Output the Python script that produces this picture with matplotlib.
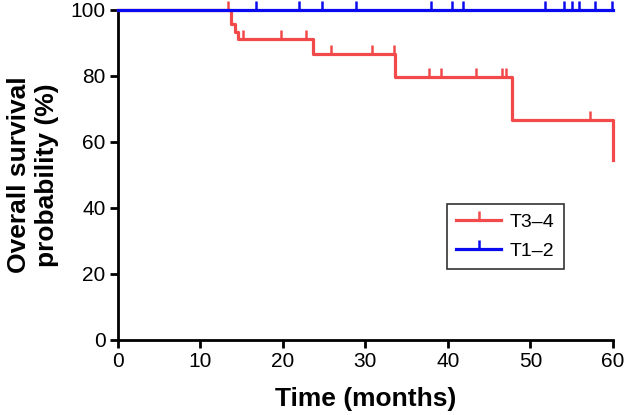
import numpy as np
import matplotlib
matplotlib.use("Agg")
import matplotlib.pyplot as plt
from matplotlib.lines import Line2D

plt.rcParams['font.family'] = ['Liberation Sans', 'DejaVu Sans']

# T3-4 group: event times (months) and survival (%) after each drop
t34_times = [0, 13.7, 14.2, 14.6, 23.7, 33.6, 47.8, 60.0]
t34_surv = [100, 95.6, 93.4, 91.2, 86.5, 79.8, 66.5, 54.5]
t34_censor = [13.3, 15.1, 19.8, 22.8, 25.8, 30.8, 33.5, 37.7, 39.2, 43.4, 46.6, 47.0, 57.2]

# T1-2 group: no events
t12_times = [0, 60.0]
t12_surv = [100, 100]
t12_censor = [16.7, 22.0, 24.7, 28.8, 37.9, 40.5, 41.8, 51.8, 54.1, 55.0, 55.9, 57.8, 59.9]

red = "#f24a4a"
blue = "#0a0af0"


def surv_at(times, surv, t):
    idx = np.searchsorted(times, t, side="right") - 1
    return np.array(surv)[idx]


fig = plt.figure(figsize=(6.26, 4.15), dpi=100)
ax = fig.add_axes([0.1885, 0.181, 0.7905, 0.795])

ax.step(t34_times, t34_surv, where="post", color=red, lw=2.3, clip_on=False, zorder=3)
ax.plot(t34_censor, surv_at(t34_times, t34_surv, t34_censor), ls="none",
        marker=2, ms=6.5, mew=1.8, color=red, clip_on=False, zorder=3)
ax.step(t12_times, t12_surv, where="post", color=blue, lw=2.3, clip_on=False, zorder=4)
ax.plot(t12_censor, surv_at(t12_times, t12_surv, t12_censor), ls="none",
        marker=2, ms=6.5, mew=1.8, color=blue, clip_on=False, zorder=4)

ax.set_xlim(0, 60)
ax.set_ylim(0, 100)
ax.set_xticks(range(0, 61, 10))
ax.set_yticks(range(0, 101, 20))
for s in ["top", "right"]:
    ax.spines[s].set_visible(False)
for s in ["left", "bottom"]:
    ax.spines[s].set_linewidth(2)
ax.tick_params(width=2, length=6, labelsize=15, direction="out", pad=3)

ax.set_xlabel("Time (months)", fontsize=19, fontweight="bold", labelpad=11)
ax.set_ylabel("Overall survival\nprobability (%)", fontsize=19, fontweight="bold", labelpad=8)

handles = [Line2D([], [], color=red, lw=2.3, marker=2, ms=6.5, mew=1.8),
           Line2D([], [], color=blue, lw=2.3, marker=2, ms=6.5, mew=1.8)]
leg = ax.legend(handles, ["T3\u20134", "T1\u20132"], loc="upper left",
                bbox_to_anchor=(0.664, 0.412), fontsize=14, fancybox=False,
                edgecolor="black", handlelength=2.3, borderpad=0.5,
                labelspacing=0.55, handletextpad=0.45, numpoints=1,
                borderaxespad=0)
leg.get_frame().set_linewidth(1.2)

fig.savefig("out.png", dpi=100)
